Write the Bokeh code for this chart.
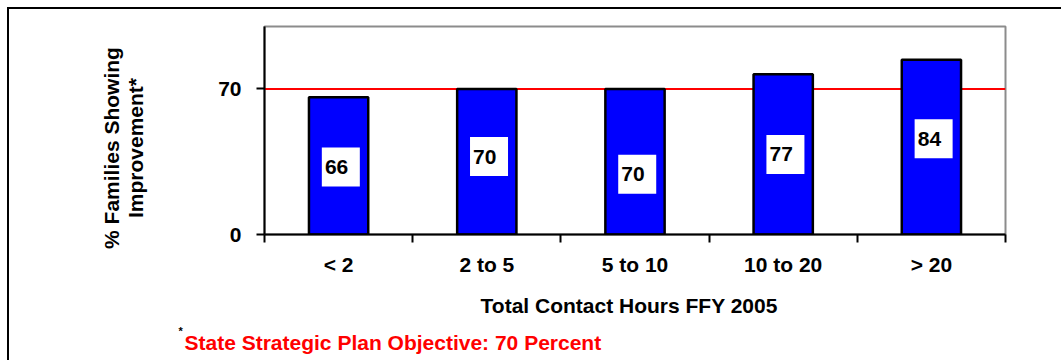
from bokeh.plotting import figure
from bokeh.models import Range1d, FixedTicker, Span, Title, ColumnDataSource
from bokeh.core.properties import value
from bokeh.embed import file_html
from bokeh.resources import INLINE

# --- data -------------------------------------------------------------
categories = ["< 2", "2 to 5", "5 to 10", "10 to 20", "> 20"]
improvement = [66, 70, 70, 77, 84]
objective = 70
y_ticks = [0, 70]
x_title = "Total Contact Hours FFY 2005"
y_title = ["% Families Showing", "Improvement*"]
footnote = "State Strategic Plan Objective: 70 Percent"

# --- styling ----------------------------------------------------------
FONT = "Liberation Sans"
BAR_BLUE = "#0000FF"
RED = "#FF0000"
NBSP = "\u00a0"

n = len(categories)
centers = [i + 0.5 for i in range(n)]
# vertical placement of the white value boxes inside each bar (data units)
box_y = [32.5, 37.5, 29.0, 38.5, 46.0]

source = ColumnDataSource(data=dict(
    x=centers,
    top=improvement,
    box_x=[c + 0.015 for c in centers],
    box_y=box_y,
    label=[str(v) for v in improvement],
))

p = figure(
    width=1054, height=353,
    output_backend="svg", toolbar_location=None,
    x_range=Range1d(0, n), y_range=Range1d(0, 100),
    min_border_left=255, min_border_right=58,
    min_border_top=17, min_border_bottom=128,
)
# outer frame line along the top and left of the chart area
p.styles = {
    "margin-left": "7px", "margin-top": "7px",
    "border-left": "2px solid black", "border-top": "2px solid black",
}

p.background_fill_color = "white"
p.border_fill_color = "white"
p.outline_line_color = "#8c8c8c"
p.outline_line_width = 2
p.xgrid.visible = False
p.ygrid.visible = False


def style_axis_text(axis):
    axis.major_label_text_font = FONT
    axis.major_label_text_font_style = "bold"
    axis.major_label_text_font_size = "21px"
    axis.major_label_text_color = "black"
    axis.axis_label_text_font = FONT
    axis.axis_label_text_font_style = "bold"
    axis.axis_label_text_font_size = "21px"
    axis.axis_label_text_color = "black"


# y axis: only 0 and the objective are labelled
yax = p.yaxis[0]
yax.ticker = FixedTicker(ticks=y_ticks)
yax.axis_line_width = 2
yax.axis_line_color = "black"
yax.major_tick_out = 8
yax.major_tick_in = 0
yax.major_tick_line_width = 2
yax.minor_tick_line_color = None
yax.major_label_standoff = 15
style_axis_text(yax)
# trailing no-break spaces move the two-line title a little below centre
yax.axis_label = "\n".join(t + NBSP * 6 for t in y_title)
yax.axis_label_text_line_height = 1.05
yax.axis_label_standoff = 68

# x axis: category names at bar centres, tick marks between categories
xax = p.xaxis[0]
xax.ticker = FixedTicker(ticks=centers, minor_ticks=list(range(n + 1)))
xax.major_label_overrides = {c: cat for c, cat in zip(centers, categories)}
xax.axis_line_width = 2
xax.axis_line_color = "black"
xax.major_tick_out = 0
xax.major_tick_in = 0
xax.minor_tick_out = 8
xax.minor_tick_in = 0
xax.minor_tick_line_width = 2
xax.minor_tick_line_color = "black"
xax.major_label_standoff = 10
style_axis_text(xax)
xax.axis_label = x_title + NBSP * 2
xax.axis_label_standoff = 15

# objective line, drawn beneath the bars
p.add_layout(Span(location=objective, dimension="width", line_color=RED,
                  line_width=2, level="underlay"))

p.vbar(x="x", top="top", width=0.4, source=source,
       fill_color=BAR_BLUE, line_color="black", line_width=2.5)

# value labels in white boxes
p.rect(x="box_x", y="box_y", width=38, height=39,
       width_units="screen", height_units="screen", source=source,
       fill_color="white", line_color=None)
p.text(x="x", y="box_y", text="label", source=source,
       text_align="center", text_baseline="middle", x_offset=-2,
       text_font=value(FONT), text_font_style="bold",
       text_font_size="21px", text_color="black")

# footnote: small black asterisk followed by the red objective text
p.add_layout(Title(text="*", align="left", offset=-86, standoff=6,
                   text_font=FONT, text_font_style="bold",
                   text_font_size="11px", text_color="black"), "below")
p.add_layout(Title(text=footnote, align="left", offset=-80, standoff=-21,
                   text_font=FONT, text_font_style="bold",
                   text_font_size="21px", text_color=RED), "below")

open("out.html", "w").write(file_html(p, INLINE))
